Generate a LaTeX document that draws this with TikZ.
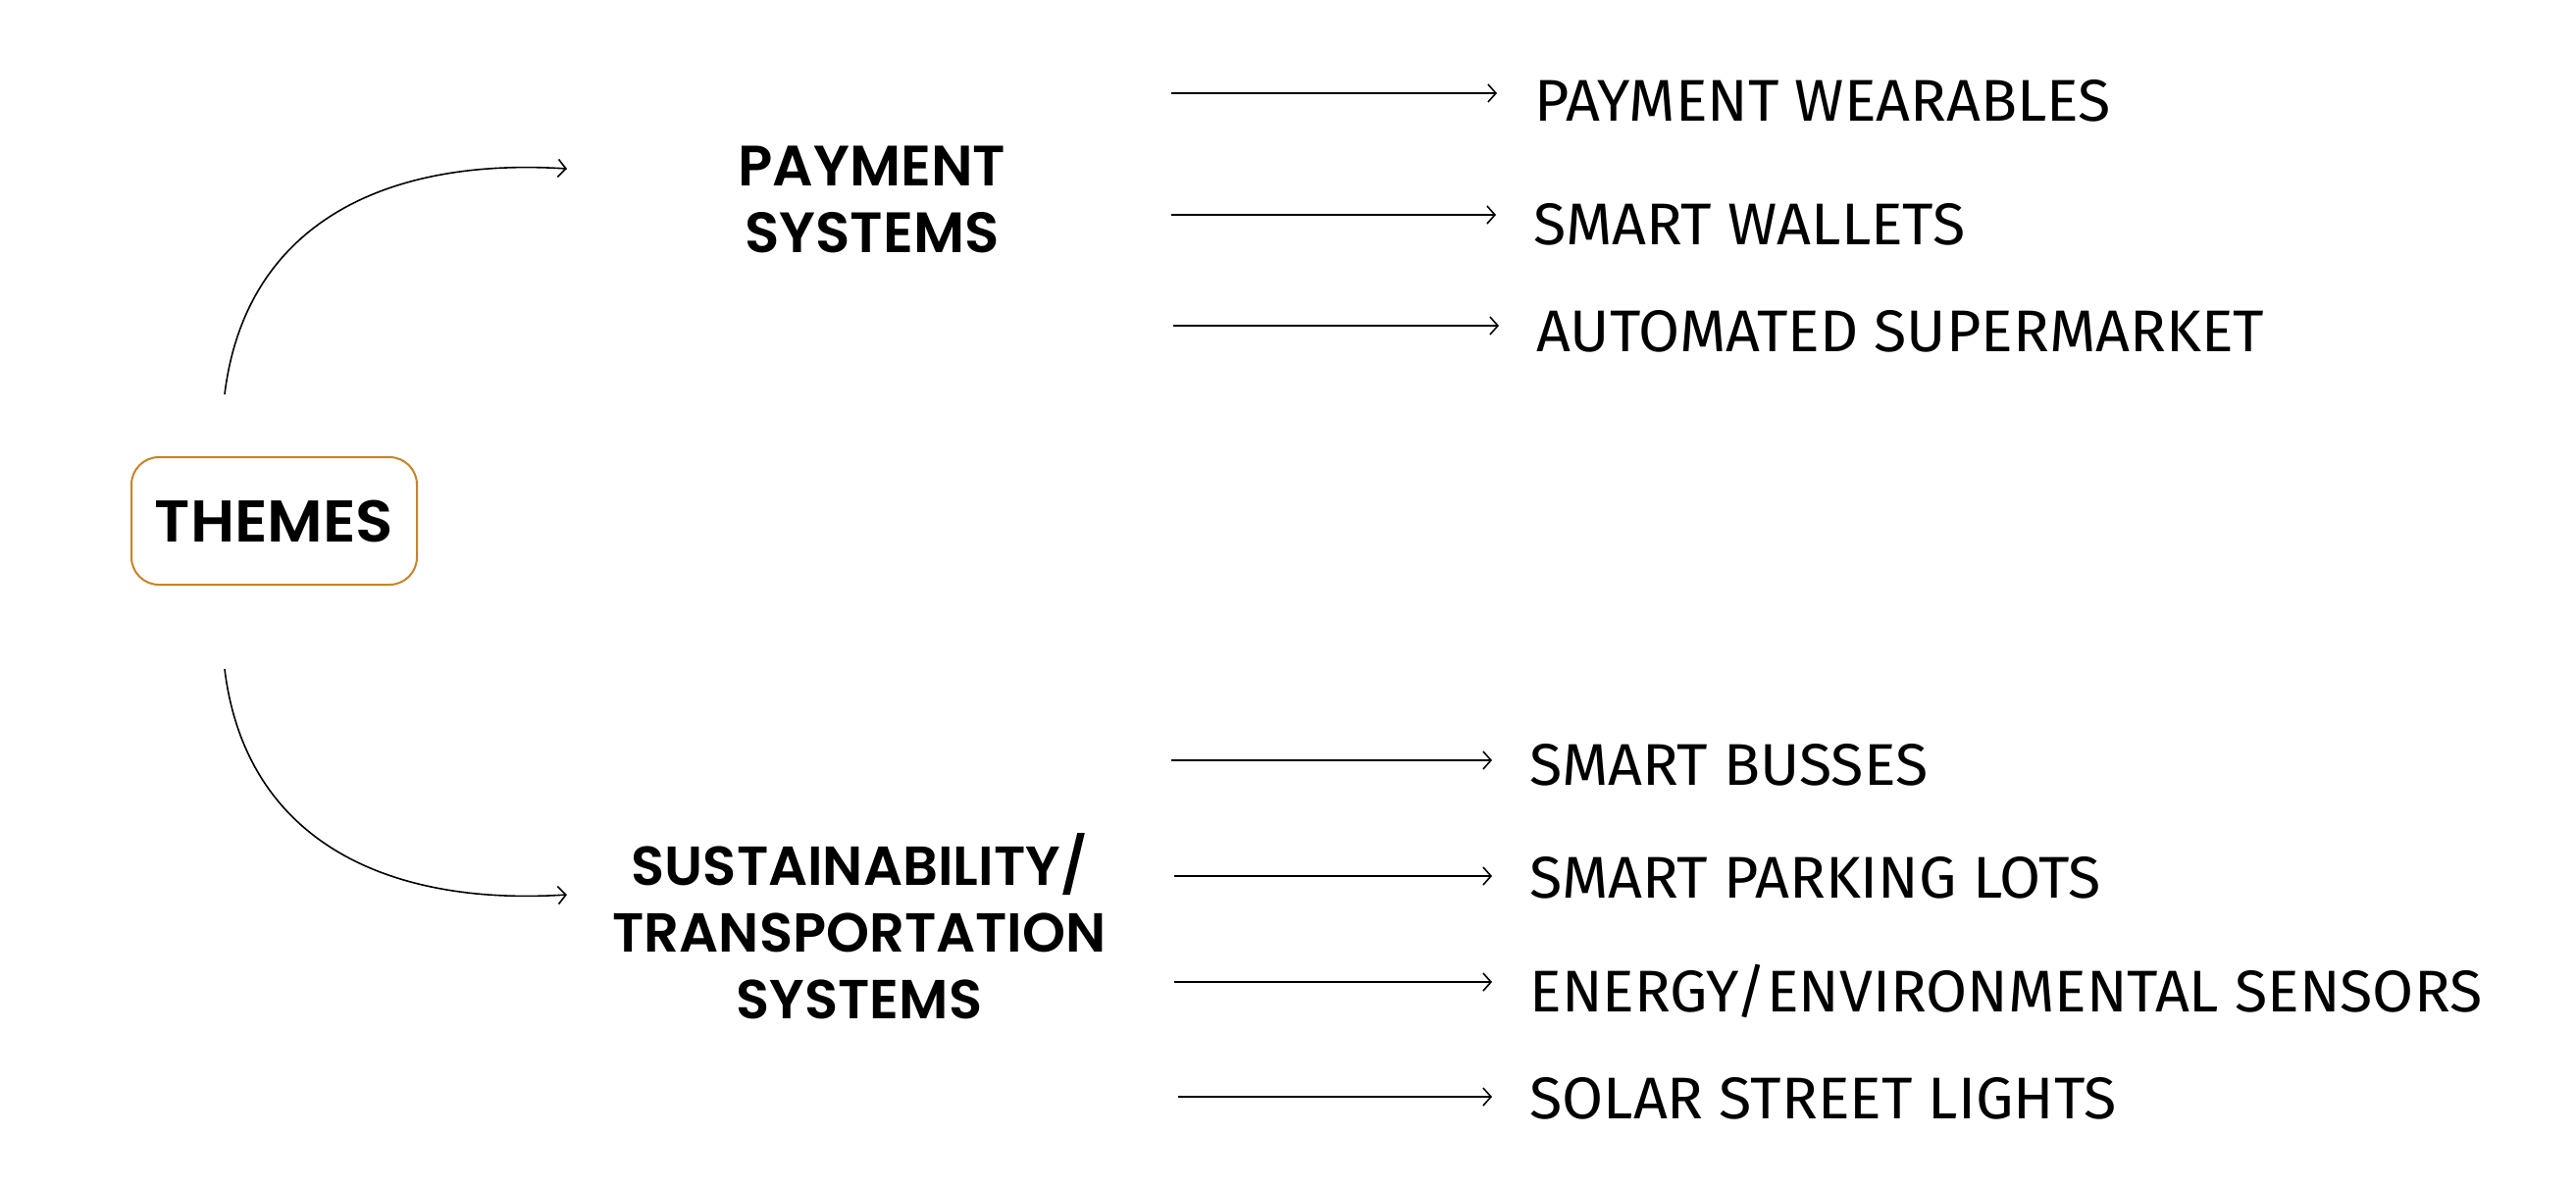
\documentclass[tikz,border=0pt]{standalone}
\usepackage{fontspec}
\usetikzlibrary{arrows.meta,calc}
\setmainfont{Fira Sans}
\newfontfamily\lblfont{Fira Sans}[FakeStretch=1.015]
\newfontfamily\headfont{Poppins}[UprightFont=* SemiBold]
\newfontfamily\themefont{Poppins}[UprightFont=* SemiBold, FakeStretch=1.05]
\definecolor{boxorange}{HTML}{C98328}
\tikzset{
  x=0.5pt, y=-0.5pt,
  conn/.style={line width=0.8pt, -{Straight Barb[length=4pt,width=9pt,line width=0.8pt]}},
  item/.style={anchor=base west, inner sep=0pt, font=\lblfont\fontsize{30}{34}\selectfont},
  head/.style={align=center, inner sep=0pt, font=\headfont\fontsize{29}{34}\selectfont},
  themebox/.style={draw=boxorange, line width=1pt, rounded corners=14pt, minimum width=145.5pt, minimum height=65pt, inner sep=0pt, font=\themefont\fontsize{30}{34}\selectfont}
}
\begin{document}
\begin{tikzpicture}
\useasboundingbox (0,0) rectangle (2626,1210);
% central box
\node[themebox] (themes) at (279.5,531) {THEMES};
% headings
\node[head] (pay) at (889,203) {PAYMENT\\SYSTEMS};
\node[head, font=\headfont\fontsize{28}{34}\selectfont] (sus) at (876,944) {SUSTAINABILITY/\\TRANSPORTATION\\SYSTEMS};
% curved connectors
\coordinate (cu0) at (229,402);
\coordinate (cu1) at (578,172);
\coordinate (cl0) at (229,682);
\coordinate (cl1) at (578,912);
\draw[conn] (cu0) .. controls (250,230) and (390,160) .. (cu1);
\draw[conn] (cl0) .. controls (250,854) and (390,924) .. (cl1);
% items
\node[item] (l1) at (1564,123) {PAYMENT WEARABLES};
\node[item] (l2) at (1563,249) {SMART WALLETS};
\node[item] (l3) at (1566,358) {AUTOMATED SUPERMARKET};
\node[item] (l4) at (1559,800) {SMART BUSSES};
\node[item] (l5) at (1559,915) {SMART PARKING LOTS};
\node[item] (l6) at (1559,1031) {ENERGY/ENVIRONMENTAL SENSORS};
\node[item] (l7) at (1559,1140) {SOLAR STREET LIGHTS};
% arrow starts
\coordinate (s1) at (1194,95);
\coordinate (s2) at (1194,219);
\coordinate (s3) at (1196,332);
\coordinate (s4) at (1194,775);
\coordinate (s5) at (1197,893);
\coordinate (s6) at (1197,1001);
\coordinate (s7) at (1201,1118);
\foreach \i in {1,...,7}{
  \draw[conn, shorten >=19pt] (s\i) -- (s\i -| l\i.west);
}
\end{tikzpicture}
\end{document}
